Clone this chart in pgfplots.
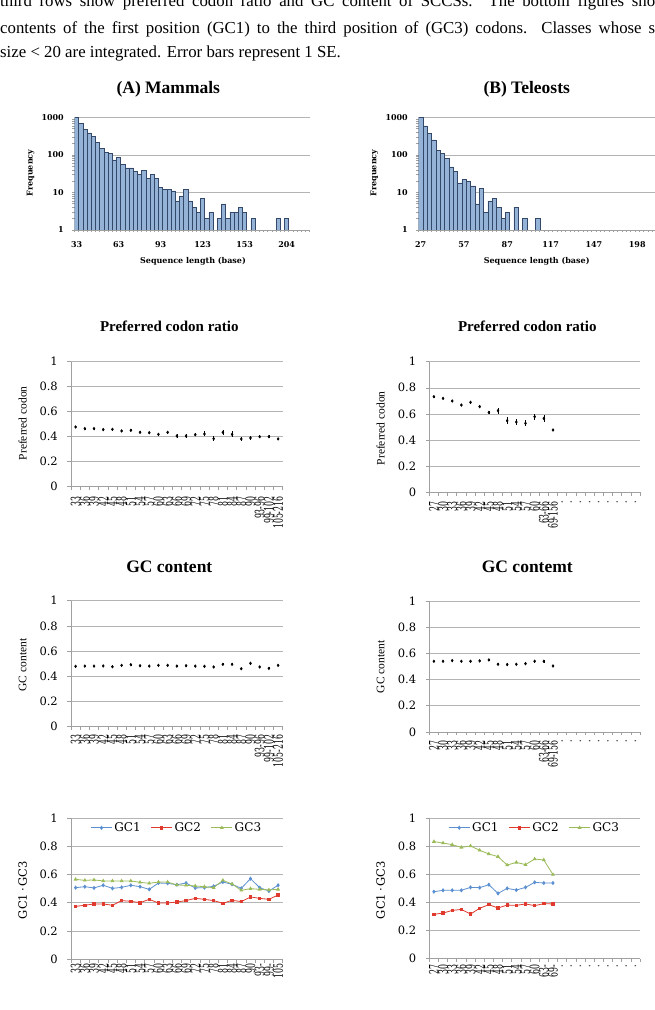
\documentclass[border=0pt]{standalone}
\usepackage{fontspec}
\usepackage{graphicx}
\usepackage{pgfplots}
\pgfplotsset{compat=1.18}
\setmainfont{Liberation Serif}
\newfontfamily\chartfont{DejaVu Serif}

\definecolor{barfill}{HTML}{95B3D7}
\definecolor{baredge}{HTML}{34496A}
\definecolor{gridc}{HTML}{B4B4B4}
\definecolor{axisc}{HTML}{A0A0A0}
\definecolor{gcone}{HTML}{5B8FD0}
\definecolor{gctwo}{HTML}{E03A2E}
\definecolor{gcthree}{HTML}{9BBB59}

% rotated category labels: squeezed along the reading direction, with a gap to the axis
\newlength\labgap
\newcommand\sq[1]{\scalebox{0.6}[1]{#1}\hspace*{\labgap}}
\newcommand\hfont{\chartfont\bfseries\fontsize{8bp}{9.5bp}\selectfont}
\newcommand\tfont{\chartfont\fontsize{11.5bp}{13bp}\selectfont}
\newcommand\cfont{\chartfont\fontsize{13bp}{14bp}\selectfont}

\begin{document}
\begin{tikzpicture}[x=1bp,y=1bp]
\clip (0bp,0bp) rectangle (655bp,1010bp);

% caption lines (justified to the text block, cut at the page top)
\pgfinterruptboundingbox
\begin{scope}[every node/.style={anchor=base west, inner sep=0pt, font=\fontsize{16.8bp}{20bp}\selectfont}]
\node at (0,1003.5) {\hbox to 655bp{third rows show preferred codon ratio and GC content of SCCSs. The bottom figures sho}};
\node at (0,976.7) {\hbox to 655bp{contents of the first position (GC1) to the third position of (GC3) codons. Classes whose s}};
\node at (0,952.7) {size < 20 are integrated. Error bars represent 1 SE.};
\end{scope}
\endpgfinterruptboundingbox

% panel titles
\begin{scope}[every node/.style={anchor=base, inner sep=0pt}]
\node[font=\bfseries\fontsize{17.5bp}{20bp}\selectfont] at (168.3,916) {(A) Mammals};
\node[font=\bfseries\fontsize{17.5bp}{20bp}\selectfont] at (526.7,916) {(B) Teleosts};
\node[font=\bfseries\fontsize{15bp}{18bp}\selectfont] at (169.3,678) {Preferred codon ratio};
\node[font=\bfseries\fontsize{15bp}{18bp}\selectfont] at (527.3,678) {Preferred codon ratio};
\node[font=\bfseries\fontsize{17.5bp}{20bp}\selectfont] at (169.3,437.5) {GC content};
\node[font=\bfseries\fontsize{17.5bp}{20bp}\selectfont] at (527.3,437.5) {GC contemt};
\end{scope}

% axis titles
\begin{scope}[every node/.style={inner sep=0pt}]
\node[rotate=90, font=\hfont] at (30.7,837) {Frequency};
\node[rotate=90, font=\hfont] at (374.3,837) {Frequency};
\node[font=\hfont] at (193,748.3) {Sequence length (base)};
\node[font=\hfont] at (536.7,748.3) {Sequence length (base)};
\node[rotate=90, font=\fontsize{11.5bp}{13bp}\selectfont] at (22.7,586.7) {Preferred codon};
\node[rotate=90, font=\fontsize{11.5bp}{13bp}\selectfont] at (380.7,581.7) {Preferred codon};
\node[rotate=90, font=\fontsize{11.5bp}{13bp}\selectfont] at (22.7,345) {GC content};
\node[rotate=90, font=\fontsize{11.5bp}{13bp}\selectfont] at (380.7,343.3) {GC content};
\node[rotate=90, font=\tfont] at (22.7,120) {GC1\,·\,GC3};
\node[rotate=90, font=\tfont] at (380.7,120) {GC1\,·\,GC3};
\end{scope}

% (A) length histogram
\begin{axis}[scale only axis, at={(74.5bp,780bp)},
  width=235.2bp, height=112.5bp,
  axis x line*=bottom, axis y line*=left,
  axis line style={axisc, line width=0.7bp},
  y axis line style={draw=none},
  tick style={axisc, line width=0.6bp}, tick align=outside,
  ymajorgrids, grid style={gridc, line width=0.6bp},
  ymode=log, ymin=1, ymax=1000,
  ytick={1,10,100,1000}, yticklabels={1,10,100,1000},
  xmin=-0.5, xmax=55.5, xtick={0,10,20,30,40,50},
  xticklabels={33,63,93,123,153,204},
  minor xtick={-0.5,0.5,...,55.5},
  major tick length=0pt, minor tick length=2.5bp,
  ticklabel style={font=\hfont, inner sep=0pt},
  yticklabel style={anchor=east, xshift=-10.5bp},
  xticklabel style={anchor=north, yshift=-11.5bp}]
\addplot[ybar, bar width=1, bar shift=0pt, fill=barfill, draw=baredge, line width=0.5bp] coordinates {
 (0,1000) (1,690) (2,490) (3,390) (4,310) (5,215) (6,152) (7,119) (8,110) (9,74)
 (10,88) (11,57) (12,45) (13,45) (14,36) (15,31) (16,39) (17,24) (18,31) (19,24)
 (20,14) (21,12) (22,12) (23,11) (24,6) (25,8) (26,12) (27,6) (28,4) (29,3)
 (30,7) (31,2) (32,3) (34,2) (35,5) (36,2) (37,3) (38,3) (39,4) (40,3)
 (42,2) (48,2) (50,2)};
\end{axis}

% (B) length histogram, running to the right edge
\begin{axis}[scale only axis, at={(418.5bp,780bp)},
  width=236.5bp, height=112.5bp,
  axis x line*=bottom, axis y line*=left,
  axis line style={axisc, line width=0.7bp},
  y axis line style={draw=none},
  tick style={axisc, line width=0.6bp}, tick align=outside,
  ymajorgrids, grid style={gridc, line width=0.6bp},
  ymode=log, ymin=1, ymax=1000,
  ytick={1,10,100,1000}, yticklabels={1,10,100,1000},
  xmin=-0.5, xmax=54.1, xtick={0,10,20,30,40,50},
  xticklabels={27,57,87,117,147,198},
  minor xtick={-0.5,0.5,...,53.5},
  major tick length=0pt, minor tick length=2.5bp,
  ticklabel style={font=\hfont, inner sep=0pt},
  yticklabel style={anchor=east, xshift=-10.5bp},
  xticklabel style={anchor=north, yshift=-11.5bp}]
\addplot[ybar, bar width=1, bar shift=0pt, fill=barfill, draw=baredge, line width=0.5bp] coordinates {
 (0,1000) (1,600) (2,380) (3,254) (4,135) (5,110) (6,81) (7,48) (8,37) (9,18)
 (10,22) (11,20) (12,15) (13,5) (14,13) (15,3) (16,6) (17,7) (18,4) (19,2)
 (20,3) (22,4) (24,2) (27,2)};
\end{axis}

% preferred codon ratio, mammals
\setlength\labgap{10bp}
\begin{axis}[scale only axis, at={(71bp,523.7bp)},
  width=211.7bp, height=124.6bp,
  axis x line*=bottom, axis y line*=left,
  axis line style={axisc, line width=0.7bp},
  tick style={axisc, line width=0.6bp}, tick align=outside,
  ymajorgrids, grid style={gridc, line width=0.6bp},
  ymin=0, ymax=1, ytick={0,0.2,0.4,0.6,0.8,1}, yticklabels={0,0.2,0.4,0.6,0.8,1},
  minor ytick={0,0.2,0.4,0.6,0.8,1},
  xmin=-0.5, xmax=22.5, xtick={0,...,22},
  minor xtick={-0.5,0.5,...,22.5},
  major tick length=0pt, minor tick length=3.5bp,
  ticklabel style={font=\tfont, inner sep=0pt},
  yticklabel style={anchor=east, xshift=-13bp},
  xticklabel style={rotate=90, anchor=east, font=\cfont},
  xticklabels={\sq{33},\sq{36},\sq{39},\sq{42},\sq{45},\sq{48},\sq{51},\sq{54},\sq{57},\sq{60},\sq{63},\sq{66},\sq{69},\sq{72},\sq{75},\sq{78},\sq{81},\sq{84},\sq{87},\sq{90},\sq{93-96},\sq{99-102},\sq{105-216}}]
\addplot[only marks, mark=diamond*, mark size=1.4bp, black,
  error bars/.cd, y dir=both, y explicit, error mark=none,
  error bar style={black, line width=0.6bp}]
  table[x index=0, y index=1, y error index=2] {
0 0.476 0.004
1 0.463 0.004
2 0.463 0.004
3 0.455 0.005
4 0.457 0.006
5 0.444 0.006
6 0.449 0.007
7 0.433 0.008
8 0.430 0.009
9 0.417 0.011
10 0.433 0.012
11 0.404 0.013
12 0.404 0.014
13 0.414 0.014
14 0.420 0.020
15 0.382 0.022
16 0.433 0.020
17 0.417 0.024
18 0.380 0.016
19 0.388 0.013
20 0.398 0.014
21 0.398 0.013
22 0.380 0.009
};
\end{axis}

% preferred codon ratio, teleosts
\setlength\labgap{9bp}
\begin{axis}[scale only axis, at={(429.3bp,517.7bp)},
  width=210.7bp, height=130.6bp,
  axis x line*=bottom, axis y line*=left,
  axis line style={axisc, line width=0.7bp},
  tick style={axisc, line width=0.6bp}, tick align=outside,
  ymajorgrids, grid style={gridc, line width=0.6bp},
  ymin=0, ymax=1, ytick={0,0.2,0.4,0.6,0.8,1}, yticklabels={0,0.2,0.4,0.6,0.8,1},
  minor ytick={0,0.2,0.4,0.6,0.8,1},
  xmin=-0.5, xmax=22.5, xtick={0,...,22},
  minor xtick={-0.5,0.5,...,22.5},
  major tick length=0pt, minor tick length=3.5bp,
  ticklabel style={font=\tfont, inner sep=0pt},
  yticklabel style={anchor=east, xshift=-13bp},
  xticklabel style={rotate=90, anchor=east, font=\cfont},
  xticklabels={\sq{27},\sq{30},\sq{33},\sq{36},\sq{39},\sq{42},\sq{45},\sq{48},\sq{51},\sq{54},\sq{57},\sq{60},\sq{63-66},\sq{69-156},\sq{.},\sq{.},\sq{.},\sq{.},\sq{.},\sq{.},\sq{.},\sq{.},\sq{.}}]
\addplot[only marks, mark=diamond*, mark size=1.4bp, black,
  error bars/.cd, y dir=both, y explicit, error mark=none,
  error bar style={black, line width=0.6bp}]
  table[x index=0, y index=1, y error index=2] {
0 0.732 0.004
1 0.719 0.005
2 0.699 0.006
3 0.668 0.008
4 0.689 0.010
5 0.656 0.011
6 0.612 0.014
7 0.625 0.022
8 0.548 0.025
9 0.538 0.026
10 0.528 0.022
11 0.579 0.022
12 0.566 0.028
13 0.477 0.008
};
\end{axis}

% GC content, mammals
\setlength\labgap{8bp}
\begin{axis}[scale only axis, at={(71bp,283.3bp)},
  width=211.7bp, height=126bp,
  axis x line*=bottom, axis y line*=left,
  axis line style={axisc, line width=0.7bp},
  tick style={axisc, line width=0.6bp}, tick align=outside,
  ymajorgrids, grid style={gridc, line width=0.6bp},
  ymin=0, ymax=1, ytick={0,0.2,0.4,0.6,0.8,1}, yticklabels={0,0.2,0.4,0.6,0.8,1},
  minor ytick={0,0.2,0.4,0.6,0.8,1},
  xmin=-0.5, xmax=22.5, xtick={0,...,22},
  minor xtick={-0.5,0.5,...,22.5},
  major tick length=0pt, minor tick length=3.5bp,
  ticklabel style={font=\tfont, inner sep=0pt},
  yticklabel style={anchor=east, xshift=-13bp},
  xticklabel style={rotate=90, anchor=east, font=\cfont},
  xticklabels={\sq{33},\sq{36},\sq{39},\sq{42},\sq{45},\sq{48},\sq{51},\sq{54},\sq{57},\sq{60},\sq{63},\sq{66},\sq{69},\sq{72},\sq{75},\sq{78},\sq{81},\sq{84},\sq{87},\sq{90},\sq{93-96},\sq{99-102},\sq{105-216}}]
\addplot[only marks, mark=diamond*, mark size=1.4bp, black,
  error bars/.cd, y dir=both, y explicit, error mark=none,
  error bar style={black, line width=0.6bp}]
  table[x index=0, y index=1, y error index=2] {
0 0.479 0.003
1 0.481 0.003
2 0.481 0.003
3 0.482 0.003
4 0.476 0.004
5 0.487 0.004
6 0.492 0.004
7 0.484 0.004
8 0.481 0.005
9 0.487 0.005
10 0.487 0.005
11 0.481 0.006
12 0.484 0.006
13 0.481 0.007
14 0.479 0.008
15 0.474 0.008
16 0.495 0.009
17 0.495 0.009
18 0.460 0.008
19 0.503 0.010
20 0.474 0.008
21 0.463 0.007
22 0.487 0.006
};
\end{axis}

% GC content, teleosts
\begin{axis}[scale only axis, at={(429.3bp,278bp)},
  width=210.7bp, height=131bp,
  axis x line*=bottom, axis y line*=left,
  axis line style={axisc, line width=0.7bp},
  tick style={axisc, line width=0.6bp}, tick align=outside,
  ymajorgrids, grid style={gridc, line width=0.6bp},
  ymin=0, ymax=1, ytick={0,0.2,0.4,0.6,0.8,1}, yticklabels={0,0.2,0.4,0.6,0.8,1},
  minor ytick={0,0.2,0.4,0.6,0.8,1},
  xmin=-0.5, xmax=22.5, xtick={0,...,22},
  minor xtick={-0.5,0.5,...,22.5},
  major tick length=0pt, minor tick length=3.5bp,
  ticklabel style={font=\tfont, inner sep=0pt},
  yticklabel style={anchor=east, xshift=-13bp},
  xticklabel style={rotate=90, anchor=east, font=\cfont},
  xticklabels={\sq{27},\sq{30},\sq{33},\sq{36},\sq{39},\sq{42},\sq{45},\sq{48},\sq{51},\sq{54},\sq{57},\sq{60},\sq{63-66},\sq{69-156},\sq{.},\sq{.},\sq{.},\sq{.},\sq{.},\sq{.},\sq{.},\sq{.},\sq{.}}]
\addplot[only marks, mark=diamond*, mark size=1.4bp, black,
  error bars/.cd, y dir=both, y explicit, error mark=none,
  error bar style={black, line width=0.6bp}]
  table[x index=0, y index=1, y error index=2] {
0 0.540 0.003
1 0.540 0.003
2 0.545 0.004
3 0.540 0.004
4 0.540 0.005
5 0.543 0.005
6 0.550 0.006
7 0.517 0.008
8 0.515 0.008
9 0.517 0.009
10 0.522 0.009
11 0.540 0.010
12 0.540 0.011
13 0.504 0.005
};
\end{axis}

% GC1-GC3, mammals
\setlength\labgap{4.5bp}
\begin{axis}[scale only axis, at={(71bp,51bp)},
  width=211.7bp, height=140.7bp,
  axis x line*=bottom, axis y line*=left,
  axis line style={axisc, line width=0.7bp},
  tick style={axisc, line width=0.6bp}, tick align=outside,
  ymajorgrids, grid style={gridc, line width=0.6bp},
  ymin=0, ymax=1, ytick={0,0.2,0.4,0.6,0.8,1}, yticklabels={0,0.2,0.4,0.6,0.8,1},
  minor ytick={0,0.2,0.4,0.6,0.8,1},
  xmin=-0.5, xmax=22.5, xtick={0,...,22},
  minor xtick={-0.5,0.5,...,22.5},
  major tick length=0pt, minor tick length=3.5bp,
  ticklabel style={font=\tfont, inner sep=0pt},
  yticklabel style={anchor=east, xshift=-13bp},
  xticklabel style={rotate=90, anchor=east, font=\cfont},
  xticklabels={\sq{33},\sq{36},\sq{39},\sq{42},\sq{45},\sq{48},\sq{51},\sq{54},\sq{57},\sq{60},\sq{63},\sq{66},\sq{69},\sq{72},\sq{75},\sq{78},\sq{81},\sq{84},\sq{87},\sq{90},\sq{93-},\sq{99-},\sq{105}},
  legend style={at={(0.5,0.985)}, anchor=north, draw=none, fill=none,
    legend columns=3, inner sep=0pt, font=\chartfont\fontsize{12bp}{13bp}\selectfont,
    /tikz/every even column/.append style={column sep=8bp}},
  legend image code/.code={\draw[mark repeat=2,mark phase=2,#1] plot coordinates {(0bp,0bp) (10.5bp,0bp) (21bp,0bp)};}]
\addplot[gcone, line width=0.8bp, mark=diamond*, mark size=1.5bp] coordinates {
 (0,0.507) (1,0.514) (2,0.505) (3,0.524) (4,0.502) (5,0.509) (6,0.524) (7,0.514)
 (8,0.495) (9,0.540) (10,0.538) (11,0.528) (12,0.540) (13,0.505) (14,0.507)
 (15,0.517) (16,0.547) (17,0.531) (18,0.502) (19,0.571) (20,0.507) (21,0.483) (22,0.524)};
\addplot[gctwo, line width=0.8bp, mark=square*, mark size=1.2bp] coordinates {
 (0,0.374) (1,0.382) (2,0.391) (3,0.391) (4,0.382) (5,0.415) (6,0.410) (7,0.400)
 (8,0.424) (9,0.398) (10,0.398) (11,0.405) (12,0.415) (13,0.431) (14,0.424)
 (15,0.415) (16,0.396) (17,0.417) (18,0.408) (19,0.441) (20,0.431) (21,0.424) (22,0.455)};
\addplot[gcthree, line width=0.8bp, mark=triangle*, mark size=1.5bp] coordinates {
 (0,0.566) (1,0.559) (2,0.562) (3,0.555) (4,0.555) (5,0.555) (6,0.555) (7,0.545)
 (8,0.538) (9,0.547) (10,0.547) (11,0.526) (12,0.524) (13,0.519) (14,0.514)
 (15,0.507) (16,0.559) (17,0.533) (18,0.488) (19,0.500) (20,0.495) (21,0.491) (22,0.495)};
\legend{GC1,GC2,GC3}
\end{axis}

% GC1-GC3, teleosts
\setlength\labgap{6bp}
\begin{axis}[scale only axis, at={(429.3bp,51.3bp)},
  width=210.7bp, height=140.4bp,
  axis x line*=bottom, axis y line*=left,
  axis line style={axisc, line width=0.7bp},
  tick style={axisc, line width=0.6bp}, tick align=outside,
  ymajorgrids, grid style={gridc, line width=0.6bp},
  ymin=0, ymax=1, ytick={0,0.2,0.4,0.6,0.8,1}, yticklabels={0,0.2,0.4,0.6,0.8,1},
  minor ytick={0,0.2,0.4,0.6,0.8,1},
  xmin=-0.5, xmax=22.5, xtick={0,...,22},
  minor xtick={-0.5,0.5,...,22.5},
  major tick length=0pt, minor tick length=3.5bp,
  ticklabel style={font=\tfont, inner sep=0pt},
  yticklabel style={anchor=east, xshift=-13bp},
  xticklabel style={rotate=90, anchor=east, font=\cfont},
  xticklabels={\sq{27},\sq{30},\sq{33},\sq{36},\sq{39},\sq{42},\sq{45},\sq{48},\sq{51},\sq{54},\sq{57},\sq{60},\sq{63-},\sq{69-},\sq{.},\sq{.},\sq{.},\sq{.},\sq{.},\sq{.},\sq{.},\sq{.},\sq{.}},
  legend style={at={(0.5,0.985)}, anchor=north, draw=none, fill=none,
    legend columns=3, inner sep=0pt, font=\chartfont\fontsize{12bp}{13bp}\selectfont,
    /tikz/every even column/.append style={column sep=8bp}},
  legend image code/.code={\draw[mark repeat=2,mark phase=2,#1] plot coordinates {(0bp,0bp) (10.5bp,0bp) (21bp,0bp)};}]
\addplot[gcone, line width=0.8bp, mark=diamond*, mark size=1.5bp] coordinates {
 (0,0.477) (1,0.487) (2,0.487) (3,0.487) (4,0.508) (5,0.506) (6,0.527)
 (7,0.465) (8,0.501) (9,0.489) (10,0.508) (11,0.544) (12,0.539) (13,0.539)};
\addplot[gctwo, line width=0.8bp, mark=square*, mark size=1.2bp] coordinates {
 (0,0.316) (1,0.325) (2,0.344) (3,0.351) (4,0.318) (5,0.359) (6,0.385)
 (7,0.361) (8,0.382) (9,0.380) (10,0.390) (11,0.378) (12,0.392) (13,0.390)};
\addplot[gcthree, line width=0.8bp, mark=triangle*, mark size=1.5bp] coordinates {
 (0,0.834) (1,0.824) (2,0.812) (3,0.793) (4,0.803) (5,0.772) (6,0.746)
 (7,0.727) (8,0.667) (9,0.686) (10,0.670) (11,0.710) (12,0.703) (13,0.599)};
\legend{GC1,GC2,GC3}
\end{axis}

\end{tikzpicture}
\end{document}
